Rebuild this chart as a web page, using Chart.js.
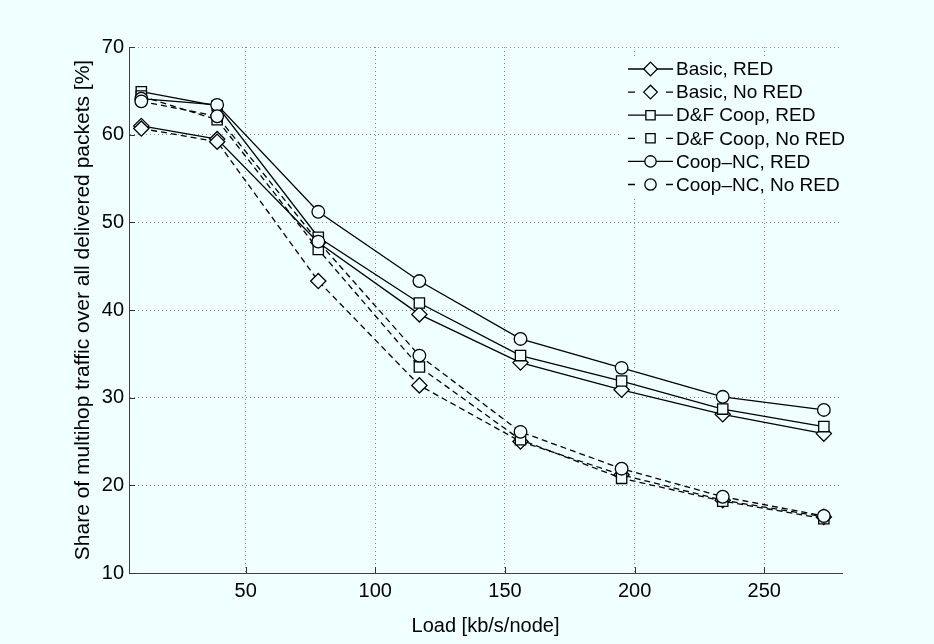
<!DOCTYPE html>
<html>
<head>
<meta charset="utf-8">
<script src="https://cdn.jsdelivr.net/npm/chart.js@4.4.1/dist/chart.umd.min.js"></script>
<style>
  html, body { margin: 0; padding: 0; background: #f0ffff; }
  #wrap { width: 934px; height: 644px; }
</style>
</head>
<body>
<div id="wrap"><canvas id="myChart" width="934" height="644"></canvas></div>
<script>
// carga ofrecida por nodo [kb/s/node]
const cargas = [9.75, 39, 78, 117, 156, 195, 234, 273];

// porcentaje de tráfico multihop, una serie por esquema
const basicRed = [61.0, 59.5, 47.7, 39.5, 34.0, 30.9, 28.1, 25.9];
const basicNoRed = [60.7, 59.2, 43.3, 31.4, 25.0, 21.2, 18.3, 16.4];
const dfRed = [64.9, 63.3, 48.3, 40.8, 34.8, 31.9, 28.7, 26.7];
const dfNoRed = [64.4, 61.7, 46.9, 33.5, 25.2, 20.8, 18.2, 16.2];
const ncRed = [64.1, 63.4, 51.2, 43.3, 36.7, 33.4, 30.1, 28.6];
const ncNoRed = [63.8, 62.1, 47.8, 34.8, 26.1, 21.9, 18.7, 16.5];

const ticksX = [50, 100, 150, 200, 250];
const ticksY = [10, 20, 30, 40, 50, 60, 70];

const series = [
    { label: 'Basic, RED', data: basicRed, estilo: 'rectRot', dash: false },
    { label: 'Basic, No RED', data: basicNoRed, estilo: 'rectRot', dash: true },
    { label: 'D&F Coop, RED', data: dfRed, estilo: 'rect', dash: false },
    { label: 'D&F Coop, No RED', data: dfNoRed, estilo: 'rect', dash: true },
    { label: 'Coop\u2013NC, RED', data: ncRed, estilo: 'circle', dash: false },
    { label: 'Coop\u2013NC, No RED', data: ncNoRed, estilo: 'circle', dash: true },
];

const fondo = '#f0ffff';
const radios = { rectRot: 7.6, rect: 7.3, circle: 6.3 };
const dashLinea = [6, 4];
const fuente = "'Liberation Sans', Arial, Helvetica, sans-serif";

const datasets = series.map((s, i) => ({
    label: s.label,
    data: cargas.map((x, j) => ({ x, y: s.data[j] })),
    borderColor: '#000',
    borderWidth: 1.3,
    borderDash: s.dash ? dashLinea : [],
    pointStyle: s.estilo,
    pointRadius: radios[s.estilo],
    pointHoverRadius: radios[s.estilo],
    pointBackgroundColor: fondo,
    pointBorderColor: '#000',
    pointBorderWidth: 1.3,
    tension: 0,
    fill: false,
    order: series.length - i
}));

// fondo de todo el lienzo
const pluginFondo = {
    id: 'fondo',
    beforeDraw(chart) {
        const ctx = chart.ctx;
        ctx.save();
        ctx.fillStyle = fondo;
        ctx.fillRect(0, 0, chart.width, chart.height);
        ctx.restore();
    }
};

// marcas de tick hacia adentro, como en matlab
const pluginTicks = {
    id: 'ticksAdentro',
    afterDraw(chart) {
        const { ctx, chartArea, scales } = chart;
        ctx.save();
        ctx.strokeStyle = '#333';
        ctx.lineWidth = 1;
        ctx.beginPath();
        ticksY.forEach(v => {
            const y = Math.round(scales.y.getPixelForValue(v)) + 0.5;
            ctx.moveTo(chartArea.left, y);
            ctx.lineTo(chartArea.left + 6, y);
        });
        ticksX.forEach(v => {
            const x = Math.round(scales.x.getPixelForValue(v)) + 0.5;
            ctx.moveTo(x, chartArea.bottom);
            ctx.lineTo(x, chartArea.bottom - 6);
        });
        ctx.stroke();
        ctx.restore();
    }
};

// leyenda con muestra de línea y marcador
const pluginLeyenda = {
    id: 'leyendaMatlab',
    afterDatasetsDraw(chart) {
        const { ctx, chartArea } = chart;
        const izq = chartArea.right - 222;
        const arriba = chartArea.top + 9;
        ctx.save();
        ctx.fillStyle = fondo;
        ctx.fillRect(izq, arriba, chartArea.right - izq + 4, 142);
        ctx.font = '19px ' + fuente;
        ctx.textBaseline = 'middle';
        ctx.textAlign = 'left';
        series.forEach((s, i) => {
            const y = arriba + 13 + i * 23.1;
            const x0 = izq + 8;
            ctx.strokeStyle = '#000';
            ctx.lineWidth = 1.3;
            ctx.setLineDash(s.dash ? [7, 31] : []);
            ctx.beginPath();
            ctx.moveTo(x0, y);
            ctx.lineTo(x0 + 45, y);
            ctx.stroke();
            ctx.setLineDash([]);
            ctx.fillStyle = fondo;
            Chart.helpers.drawPoint(ctx, {
                pointStyle: s.estilo,
                radius: radios[s.estilo] * 0.9,
                borderWidth: 1.3
            }, x0 + 22.5, y);
            ctx.fillStyle = '#000';
            ctx.fillText(s.label, x0 + 48, y + 1);
        });
        ctx.restore();
    }
};

const ctx = document.querySelector('#myChart').getContext('2d');
const myChart = new Chart(ctx, {
    type: 'line',
    data: { datasets },
    options: {
        responsive: false,
        animation: false,
        devicePixelRatio: 1,
        layout: { padding: { top: 47, right: 92, left: 0, bottom: 0 } },
        plugins: {
            legend: { display: false },
            tooltip: { enabled: false }
        },
        scales: {
            x: {
                type: 'linear',
                min: 5,
                max: 280,
                afterBuildTicks: scale => { scale.ticks = ticksX.map(value => ({ value })); },
                afterFit: scale => { scale.height = 71; },
                grid: { color: '#8a8a8a', lineWidth: 1, drawTicks: false },
                border: { display: true, color: '#404040', width: 1, dash: [1, 3] },
                ticks: {
                    padding: 6,
                    color: '#000',
                    font: { family: fuente, size: 20 }
                },
                title: {
                    display: true,
                    text: 'Load [kb/s/node]',
                    color: '#000',
                    font: { family: fuente, size: 20 },
                    padding: { top: 0, bottom: 6 }
                }
            },
            y: {
                min: 10,
                max: 70,
                afterBuildTicks: scale => { scale.ticks = ticksY.map(value => ({ value })); },
                afterFit: scale => { scale.width = 129; },
                grid: { color: '#8a8a8a', lineWidth: 1, drawTicks: false },
                border: { display: true, color: '#404040', width: 1, dash: [1, 3] },
                ticks: {
                    padding: 5,
                    color: '#000',
                    font: { family: fuente, size: 20 }
                },
                title: {
                    display: true,
                    text: 'Share of multihop traffic over all delivered packets [%]',
                    color: '#000',
                    font: { family: fuente, size: 21 },
                    padding: { top: 71, bottom: 0 }
                }
            }
        }
    },
    plugins: [pluginFondo, pluginLeyenda, pluginTicks]
});
</script>
</body>
</html>
